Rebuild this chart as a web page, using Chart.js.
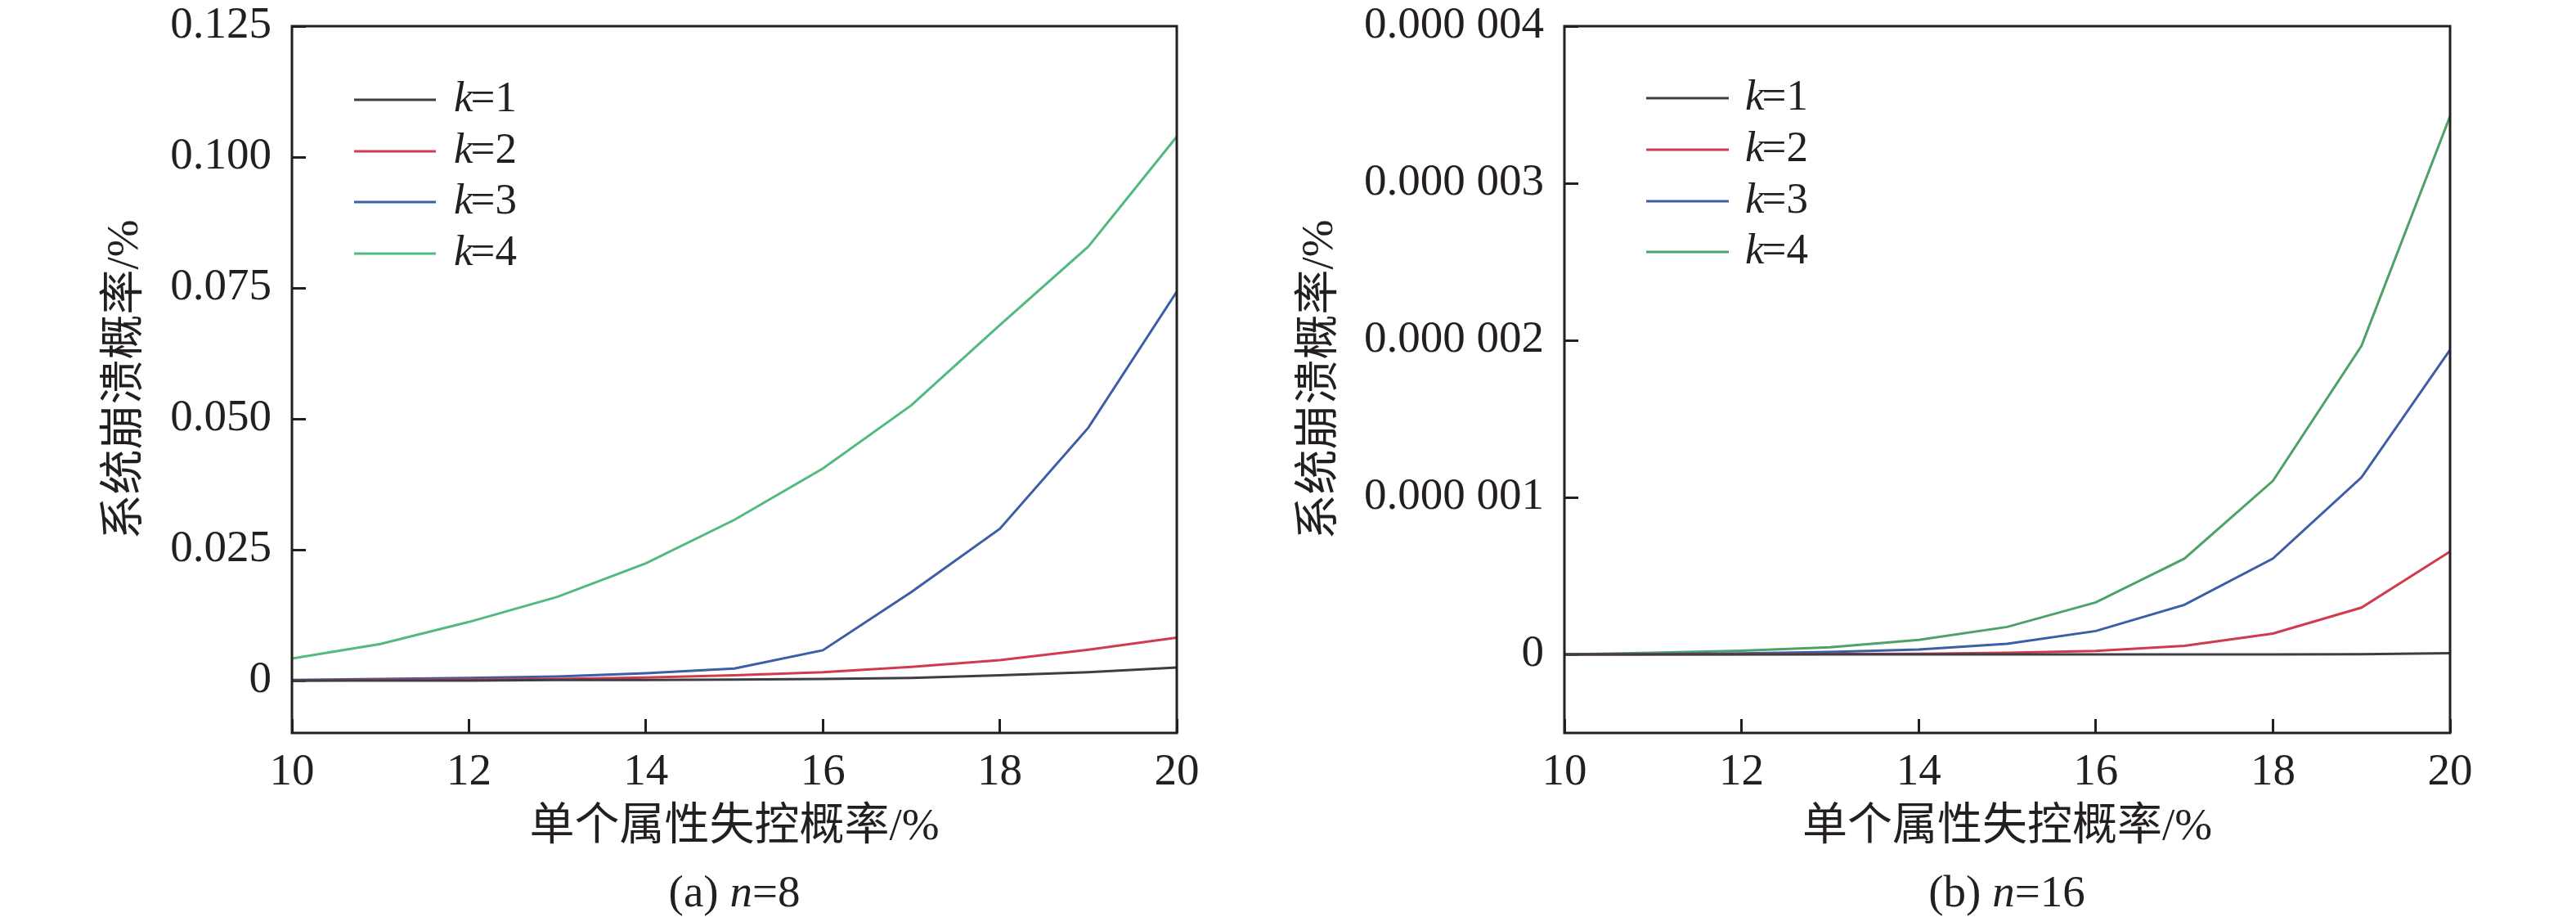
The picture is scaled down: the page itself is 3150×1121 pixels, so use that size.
<!DOCTYPE html>
<html lang="zh">
<head>
  <meta charset="UTF-8" />
  <title>系统崩溃概率</title>
  <script src="https://cdn.jsdelivr.net/npm/chart.js"></script>
  <style>
    html, body { margin: 0; padding: 0; background: #fff; }
    .page { position: relative; width: 3150px; height: 1121px; overflow: hidden; }
    .panel { position: absolute; top: 0; width: 1575px; height: 1121px; }
    .caption {
      position: absolute; top: 1058px; width: 400px; text-align: center;
      font: 55px "Liberation Serif", serif; color: #231f20; line-height: 64px;
    }
  </style>
</head>
<body>
<div class="page">
  <div class="panel" style="left:0"><canvas id="chart-a"></canvas></div>
  <div class="panel" style="left:1575px"><canvas id="chart-b"></canvas></div>
  <div class="caption" style="left:698px">(a) <i>n</i>=8</div>
  <div class="caption" style="left:2254px">(b) <i>n</i>=16</div>
</div>

<script>
  // --- datos ---
  const xValues = [10, 11, 12, 13, 14, 15, 16, 17, 18, 19, 20];
  const kValues = [1, 2, 3, 4];

  // (a) n=8, %
  const n8k1 = [0, 0, 0, 0.0001, 0.0001, 0.0002, 0.0003, 0.0005, 0.0010, 0.0016, 0.0025];
  const n8k2 = [0, 0.0001, 0.0002, 0.0003, 0.0006, 0.0010, 0.0016, 0.0026, 0.0039, 0.0059, 0.0082];
  const n8k3 = [0.0001, 0.0003, 0.0005, 0.0008, 0.0014, 0.0023, 0.0058, 0.0169, 0.0290, 0.0483, 0.0743];
  const n8k4 = [0.0042, 0.0070, 0.0112, 0.0160, 0.0224, 0.0307, 0.0405, 0.0526, 0.0679, 0.0829, 0.1039];

  // (b) n=16, %
  const n16k1 = [0, 0, 0, 0, 0, 0, 0, 0, 0, 0.001e-6, 0.008e-6];
  const n16k2 = [0, 0.0005e-6, 0.001e-6, 0.002e-6, 0.004e-6, 0.010e-6, 0.022e-6, 0.055e-6, 0.133e-6, 0.298e-6, 0.655e-6];
  const n16k3 = [0, 0.003e-6, 0.007e-6, 0.015e-6, 0.031e-6, 0.068e-6, 0.149e-6, 0.316e-6, 0.610e-6, 1.127e-6, 1.939e-6];
  const n16k4 = [0, 0.011e-6, 0.024e-6, 0.046e-6, 0.093e-6, 0.175e-6, 0.331e-6, 0.610e-6, 1.105e-6, 1.965e-6, 3.427e-6];

  const xTicks = [10, 12, 14, 16, 18, 20];
  const xTickLabels = ['10', '12', '14', '16', '18', '20'];
  const yTicksA = [0, 0.025, 0.05, 0.075, 0.1, 0.125];
  const yTickLabelsA = ['0', '0.025', '0.050', '0.075', '0.100', '0.125'];
  const yTicksB = [0, 0.000001, 0.000002, 0.000003, 0.000004];
  const yTickLabelsB = ['0', '0.000 001', '0.000 002', '0.000 003', '0.000 004'];

  const xTitle = '单个属性失控概率/%';
  const yTitle = '系统崩溃概率/%';

  const INK = '#231f20';
  const SERIF = '"Liberation Serif", "Noto Sans CJK SC", serif';

  // marco completo del área de trazado
  const framePlugin = {
    id: 'frame',
    afterDraw(chart) {
      const { ctx, chartArea: a } = chart;
      ctx.save();
      ctx.strokeStyle = INK;
      ctx.lineWidth = 3;
      ctx.strokeRect(a.left, a.top, a.right - a.left, a.bottom - a.top);
      ctx.restore();
    }
  };

  // leyenda con k en cursiva
  const kLegendPlugin = {
    id: 'kLegend',
    afterDraw(chart, args, opts) {
      const { ctx, chartArea: a } = chart;
      ctx.save();
      chart.data.datasets.forEach((ds, i) => {
        const y = a.top + opts.rows[i];
        ctx.strokeStyle = ds.borderColor;
        ctx.lineWidth = 3;
        ctx.beginPath();
        ctx.moveTo(a.left + opts.x1, y);
        ctx.lineTo(a.left + opts.x2, y);
        ctx.stroke();

        const [name, val] = ds.label.split('=');
        let tx = a.left + opts.tx;
        ctx.fillStyle = INK;
        ctx.textBaseline = 'middle';
        ctx.textAlign = 'left';
        ctx.font = 'italic 53px "Liberation Serif", serif';
        ctx.fillText(name, tx, y);
        tx += ctx.measureText(name).width - 3;
        ctx.font = '53px "Liberation Serif", serif';
        ctx.fillText('=' + val, tx, y);
      });
      ctx.restore();
    }
  };

  function makeSets(series, colors) {
    return series.map((vals, i) => ({
      label: 'k=' + kValues[i],
      data: xValues.map((x, j) => ({ x: x, y: vals[j] })),
      borderColor: colors[i],
      borderWidth: 3,
      pointRadius: 0,
      tension: 0,
      fill: false
    }));
  }

  function makeChart(id, series, colors, yMin, yMax, yTicks, yLabels, pad, yTitlePad, legend) {
    return new Chart(document.getElementById(id), {
      type: 'line',
      data: { datasets: makeSets(series, colors) },
      options: {
        responsive: true,
        maintainAspectRatio: false,
        devicePixelRatio: 1,
        animation: false,
        layout: { padding: { top: 32, right: pad.right, bottom: 0, left: 0 } },
        plugins: {
          legend: { display: false },
          tooltip: { enabled: false },
          kLegend: legend
        },
        scales: {
          x: {
            type: 'linear',
            min: 10,
            max: 20,
            afterBuildTicks: s => { s.ticks = xTicks.map(v => ({ value: v })); },
            afterFit: s => {
              s.height = 225;
              s.paddingLeft = 0;
              s.paddingRight = 0;
            },
            ticks: {
              callback: (v, i) => xTickLabels[i],
              font: { family: SERIF, size: 55 },
              color: INK,
              padding: 33,
              maxRotation: 0,
              autoSkip: false
            },
            grid: {
              display: true,
              drawOnChartArea: false,
              drawTicks: true,
              tickLength: -17,
              tickWidth: 3,
              tickColor: INK
            },
            border: { display: false },
            title: {
              display: true,
              text: xTitle,
              font: { family: SERIF, size: 55 },
              color: INK,
              padding: { top: 0, bottom: 76 }
            }
          },
          y: {
            type: 'linear',
            min: yMin,
            max: yMax,
            afterBuildTicks: s => { s.ticks = yTicks.map(v => ({ value: v })); },
            afterFit: s => {
              s.width = pad.left;
              s.paddingTop = 0;
              s.paddingBottom = 0;
            },
            ticks: {
              callback: (v, i) => yLabels[i],
              font: { family: SERIF, size: 55 },
              color: INK,
              padding: 42,
              autoSkip: false
            },
            grid: {
              display: true,
              drawOnChartArea: false,
              drawTicks: true,
              tickLength: -17,
              tickWidth: 3,
              tickColor: INK
            },
            border: { display: false },
            title: {
              display: true,
              text: yTitle,
              font: { family: SERIF, size: 55 },
              color: INK,
              padding: { top: yTitlePad, bottom: 0 }
            }
          }
        }
      },
      plugins: [framePlugin, kLegendPlugin]
    });
  }

  makeChart('chart-a',
    [n8k1, n8k2, n8k3, n8k4],
    ['#3d3d45', '#d13b4e', '#3b5ea6', '#52ba80'],
    -0.01, 0.125, yTicksA, yTickLabelsA,
    { left: 357, right: 136 }, 121,
    { x1: 76, x2: 176, tx: 198, rows: [90, 153, 215, 278] });

  makeChart('chart-b',
    [n16k1, n16k2, n16k3, n16k4],
    ['#3d3d45', '#d13b4e', '#3b5ea6', '#4ea268'],
    -0.0000005, 0.000004, yTicksB, yTickLabelsB,
    { left: 338, right: 154 }, 7,
    { x1: 100, x2: 201, tx: 221, rows: [88, 151, 214, 276] });
</script>
</body>
</html>
